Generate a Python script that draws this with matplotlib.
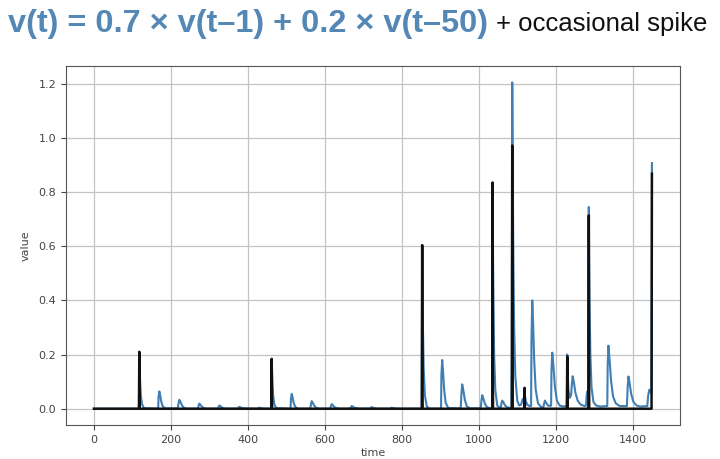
import numpy as np
import matplotlib
matplotlib.use("Agg")
import matplotlib.pyplot as plt

# spikes (black series): time and height
spike_t = [118, 462, 853, 1036, 1087, 1119, 1230, 1286, 1450]
spike_v = [0.21, 0.184, 0.604, 0.835, 0.972, 0.077, 0.193, 0.714, 0.868]
n_steps = 1451

# blue series v(t): vertices
blue_t = [0, 117,
          118, 119, 120, 122, 125, 130,
          167, 168, 170, 172, 175, 179, 186,
          218, 220, 222, 225, 229, 234, 242,
          270, 272, 274, 277, 281, 286, 294,
          322, 324, 326, 329, 333, 338, 346,
          373, 376, 378, 382, 390,
          425, 428, 430, 434, 442,
          461, 462, 463, 464, 466, 469, 474,
          511, 512, 514, 516, 519, 523, 530,
          562, 564, 566, 569, 573, 578, 586,
          614, 616, 618, 621, 625, 630, 638,
          666, 668, 670, 673, 677, 690,
          717, 720, 722, 726, 736,
          769, 772, 774, 778, 788,
          852, 853, 854, 855, 857, 860, 865, 872,
          902, 903, 905, 907, 910, 914, 921,
          953, 955, 957, 960, 964, 969, 977,
          1005, 1007, 1009, 1012, 1016, 1021, 1030,
          1035, 1036, 1037, 1038, 1040, 1043, 1048, 1054,
          1057, 1059, 1061, 1064, 1068, 1073, 1080,
          1085, 1086, 1087, 1088, 1089, 1090, 1092, 1095, 1100, 1105,
          1110, 1114, 1118, 1119, 1120, 1122, 1126, 1132,
          1136, 1137, 1139, 1141, 1144, 1148, 1154, 1162,
          1168, 1170, 1172, 1175, 1180, 1186,
          1188, 1189, 1191, 1194, 1198, 1203, 1210, 1220,
          1229, 1230, 1231, 1233, 1236,
          1240, 1242, 1244, 1247, 1251, 1257, 1265, 1275,
          1279, 1280, 1282, 1284, 1285,
          1286, 1287, 1288, 1290, 1293, 1298, 1305, 1315,
          1334, 1335, 1337, 1340, 1344, 1349, 1356, 1366,
          1385, 1387, 1389, 1392, 1396, 1402, 1410, 1420,
          1438, 1440, 1443, 1445, 1447, 1449, 1450]
blue_v = [0.0, 0.0,
          0.21, 0.147, 0.103, 0.05, 0.017, 0.002,
          0.0, 0.045, 0.064, 0.051, 0.026, 0.008, 0.001,
          0.001, 0.02, 0.033, 0.025, 0.012, 0.003, 0.0,
          0.0, 0.011, 0.019, 0.014, 0.007, 0.002, 0.0,
          0.0, 0.007, 0.012, 0.009, 0.004, 0.001, 0.0,
          0.0, 0.004, 0.007, 0.004, 0.001,
          0.0, 0.002, 0.004, 0.002, 0.0,
          0.0, 0.184, 0.129, 0.09, 0.044, 0.015, 0.002,
          0.0, 0.038, 0.055, 0.044, 0.022, 0.007, 0.0,
          0.0, 0.017, 0.028, 0.021, 0.01, 0.003, 0.0,
          0.0, 0.01, 0.017, 0.013, 0.006, 0.002, 0.0,
          0.0, 0.006, 0.01, 0.0075, 0.0035, 0.0,
          0.0, 0.004, 0.006, 0.003, 0.0,
          0.0, 0.002, 0.004, 0.002, 0.0,
          0.0, 0.604, 0.423, 0.296, 0.145, 0.05, 0.008, 0.0,
          0.0, 0.126, 0.18, 0.144, 0.072, 0.022, 0.002,
          0.001, 0.054, 0.09, 0.068, 0.032, 0.009, 0.001,
          0.001, 0.03, 0.05, 0.038, 0.018, 0.006, 0.001,
          0.002, 0.835, 0.585, 0.41, 0.2, 0.07, 0.012, 0.003,
          0.003, 0.02, 0.03, 0.024, 0.013, 0.006, 0.003,
          0.005, 0.17, 1.205, 0.93, 0.72, 0.55, 0.3, 0.12, 0.03, 0.012,
          0.015, 0.035, 0.04, 0.077, 0.05, 0.03, 0.015, 0.01,
          0.01, 0.25, 0.40, 0.33, 0.18, 0.07, 0.02, 0.006,
          0.006, 0.02, 0.03, 0.022, 0.012, 0.01,
          0.012, 0.14, 0.207, 0.16, 0.08, 0.03, 0.012, 0.008,
          0.01, 0.2, 0.14, 0.07, 0.04,
          0.05, 0.09, 0.12, 0.1, 0.06, 0.03, 0.015, 0.01,
          0.012, 0.045, 0.064, 0.06, 0.055,
          0.745, 0.53, 0.38, 0.2, 0.08, 0.025, 0.012, 0.008,
          0.01, 0.16, 0.233, 0.18, 0.1, 0.045, 0.02, 0.01,
          0.01, 0.08, 0.119, 0.095, 0.055, 0.025, 0.012, 0.008,
          0.01, 0.045, 0.07, 0.065, 0.06, 0.058, 0.907]

title_blue = "v(t) = 0.7 \u00d7 v(t\u20131) + 0.2 \u00d7 v(t\u201350)"
title_black = "+ occasional spike"

TITLE_BLUE_COLOR = "#5387b6"
LINE_BLUE_COLOR = "#3f7fb5"
TICK_COLOR = "#444444"

spike_series = np.zeros(n_steps)
spike_series[spike_t] = spike_v

plt.rcParams['font.family'] = ['Liberation Sans', 'DejaVu Sans']

fig = plt.figure(figsize=(7.2, 4.59), dpi=100)
ax = fig.add_axes([0.0917, 0.074, 0.8525, 0.782])

ax.plot(blue_t, blue_v, color=LINE_BLUE_COLOR, lw=1.5)
ax.plot(np.arange(n_steps), spike_series, color="#111111", lw=1.8)

ax.set_xticks([0, 200, 400, 600, 800, 1000, 1200, 1400])
ax.set_yticks([0.0, 0.2, 0.4, 0.6, 0.8, 1.0, 1.2])
ax.set_yticklabels(["0.0", "0.2", "0.4", "0.6", "0.8", "1.0", "1.2"])
ax.tick_params(labelsize=8, colors=TICK_COLOR, length=3.5)
for lab in ax.get_xticklabels() + ax.get_yticklabels():
    lab.set_family('DejaVu Sans')
ax.set_xlabel("time", fontsize=8, color=TICK_COLOR, family='DejaVu Sans', labelpad=2)
ax.set_ylabel("value", fontsize=8, color=TICK_COLOR, family='DejaVu Sans', labelpad=6)
ax.grid(color="#c4c4c4", linewidth=0.9)
ax.set_axisbelow(True)
for sp in ax.spines.values():
    sp.set_color("#555555")

# title in two colours, placed side by side
t1 = fig.text(8 / 720, 1 - 24 / 459, title_blue, fontsize=23.4, fontweight='bold',
              color=TITLE_BLUE_COLOR, va='center', ha='left')
fig.canvas.draw()
bb = t1.get_window_extent()
fig.text((bb.x1 + 8) / 720, 1 - 24 / 459, title_black, fontsize=18.5, color="#111111",
         va='center', ha='left')

plt.savefig("out.png", dpi=100)
